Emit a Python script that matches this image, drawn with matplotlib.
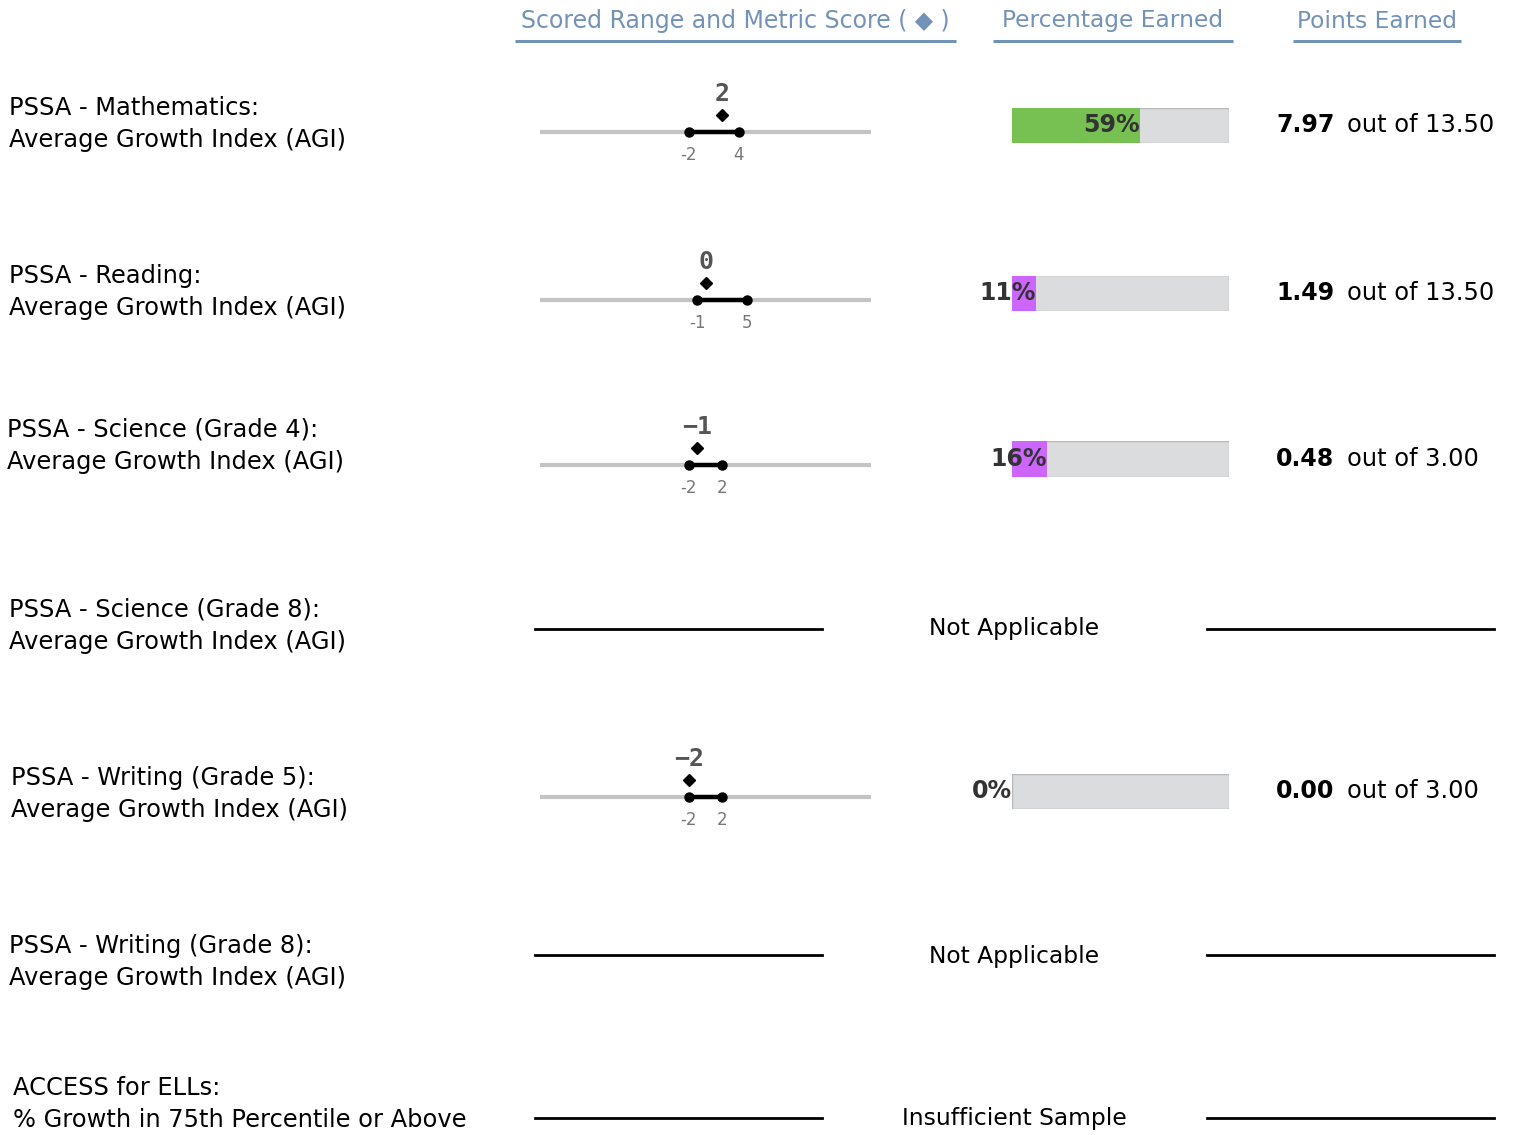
import matplotlib
matplotlib.use("Agg")
import matplotlib.pyplot as plt

W, H = 1514, 1135

# ---- data ----
metric = ["PSSA - Mathematics:", "PSSA - Reading:", "PSSA - Science (Grade 4):",
          "PSSA - Science (Grade 8):", "PSSA - Writing (Grade 5):",
          "PSSA - Writing (Grade 8):", "ACCESS for ELLs:"]
measure = ["Average Growth Index (AGI)"] * 6 + ["% Growth in 75th Percentile or Above"]
range_lo = [-2, -1, -2, None, -2, None, None]
range_hi = [4, 5, 2, None, 2, None, None]
score = [2, 0, -1, None, -2, None, None]
pct = [59, 11, 16, None, 0, None, None]
earned = [7.97, 1.49, 0.48, None, 0.00, None, None]
possible = [13.50, 13.50, 3.00, None, 3.00, None, None]
status = [None, None, None, "Not Applicable", None, "Not Applicable", "Insufficient Sample"]
fill_col = ["#77c153", "#cc66ff", "#cc66ff", None, "#cc66ff", None, None]
headers = ["Scored Range and Metric Score ( \u25c6 )", "Percentage Earned", "Points Earned"]

# layout (pixels)
row_y = [132, 300, 465, 629, 797, 955, 1118]     # number line level
bar_y = [125, 293, 459, 629, 791, 956, 1118]     # bar / points level
lab_y = [108, 276, 430, 610, 778, 946, 1088]     # first label line
lab_x = [9, 9, 7, 9, 11, 9, 13]

fig = plt.figure(figsize=(W / 100, H / 100), dpi=100)
bg = fig.add_axes([0, 0, 1, 1])
bg.set_xlim(0, W)
bg.set_ylim(H, 0)
bg.axis("off")


def px_axes(x0, x1, y0, y1):
    return fig.add_axes([x0 / W, 1 - y1 / H, (x1 - x0) / W, (y1 - y0) / H])


hcol = "#7392b8"
hx = [(515, 956), (993, 1233), (1293, 1461)]
hsize = [17, 16.8, 16.8]
for txt, (a, b), fs in zip(headers, hx, hsize):
    bg.text((a + b) / 2, 21, txt, ha="center", va="center", fontsize=fs, color=hcol)
    bg.plot([a, b], [41, 41], color=hcol, lw=2.2, solid_capstyle="butt")

for i in range(len(metric)):
    bg.text(lab_x[i], lab_y[i], metric[i], ha="left", va="center", fontsize=17.4, color="black")
    bg.text(lab_x[i], lab_y[i] + 32, measure[i], ha="left", va="center", fontsize=17.4, color="black")

    if status[i] is not None:
        bg.plot([535, 822], [row_y[i], row_y[i]], color="black", lw=2)
        bg.plot([1207, 1494], [row_y[i], row_y[i]], color="black", lw=2)
        bg.text(1014, bar_y[i], status[i], ha="center", va="center", fontsize=16.8)
        continue

    # number line
    ax = px_axes(540, 871, row_y[i] - 60, row_y[i] + 40)
    ax.set_xlim(-20, 20)
    ax.set_ylim(40, -60)
    ax.axis("off")
    ax.axhline(0, color="#c4c4c4", lw=3, solid_capstyle="butt")
    ax.plot([range_lo[i], range_hi[i]], [0, 0], color="black", lw=3.2, marker="o", ms=6.5)
    ax.plot(score[i], -17, marker="D", ms=6, color="black")
    ax.text(score[i], -38, str(score[i]).replace("-", "\u2212"), ha="center", va="center",
            fontsize=18, color="#555555", fontfamily="DejaVu Sans Mono", fontweight="bold")
    ax.text(range_lo[i], 23, str(range_lo[i]), ha="center", va="center", fontsize=12, color="#777777")
    ax.text(range_hi[i], 23, str(range_hi[i]), ha="center", va="center", fontsize=12, color="#777777")

    # percentage bar
    bx = px_axes(1012, 1229, bar_y[i] - 17.5, bar_y[i] + 17.5)
    bx.set_xlim(0, 100)
    bx.set_ylim(-0.5, 0.5)
    bx.axis("off")
    bx.barh(0, 100, height=1, color="#dbdcdd", edgecolor="#b8b8b8", lw=1)
    bx.barh(0, pct[i], height=1, color=fill_col[i], lw=0)
    bx.text(pct[i], 0, f"{pct[i]}%", ha="right", va="center", fontsize=17,
            fontweight="bold", color="#333333", clip_on=False)

    # points earned
    bg.text(1276, bar_y[i], f"{earned[i]:.2f}", ha="left", va="center", fontsize=17, fontweight="bold")
    bg.text(1347, bar_y[i], f"out of {possible[i]:.2f}", ha="left", va="center", fontsize=17.4)

fig.savefig("out.png", dpi=100, facecolor="white")
